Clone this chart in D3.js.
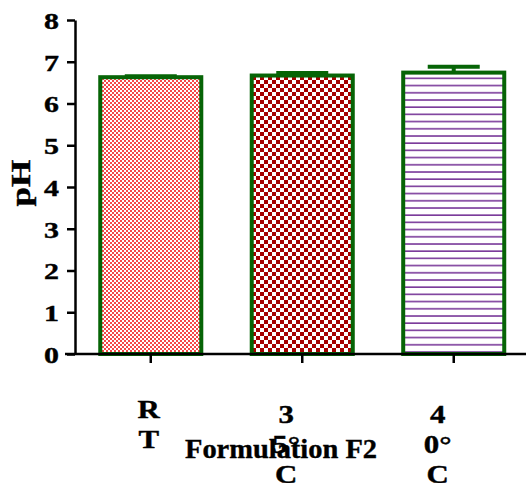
<!DOCTYPE html>
<html>
<head>
<meta charset="utf-8">
<script src="https://cdn.jsdelivr.net/npm/d3@7"></script>
<style>
  body { margin: 0; background: #fff; }
</style>
</head>
<body>
<div id="wrapper"></div>
<script>
// chart values
var categories = ["RT", "35°C", "40°C"];
var labelLines = [["R", "T"], ["3", "5°", "C"], ["4", "0°", "C"]];
var phValues = [6.63, 6.67, 6.74];
var phErrors = [0.02, 0.06, 0.14];
var yTicks = [0, 1, 2, 3, 4, 5, 6, 7, 8];

var width = 526, height = 483;
var green = "#066406";
var serif = "'Liberation Serif', 'Times New Roman', Times, serif";
var stretch = 1.3; // the figure's lettering is wide, as if scaled sideways

const svg = d3.select("#wrapper")
  .append("svg")
  .attr("width", width)
  .attr("height", height)
  .style("font-family", serif);

// heavy serif text like the scanned figure
function boldText(sel, size) {
  return sel
    .style("font-family", serif)
    .style("font-weight", "bold")
    .style("font-size", size + "px")
    .attr("fill", "#000")
    .attr("stroke", "#000")
    .attr("stroke-width", 0.4);
}

// fill patterns for the three bars
const defs = svg.append("defs");

const p1 = defs.append("pattern").attr("id", "fine").attr("patternUnits", "userSpaceOnUse")
  .attr("width", 4).attr("height", 4);
p1.append("rect").attr("width", 4).attr("height", 4).attr("fill", "#fff");
p1.append("rect").attr("width", 2).attr("height", 2).attr("fill", "#f54848");
p1.append("rect").attr("x", 2).attr("y", 2).attr("width", 2).attr("height", 2).attr("fill", "#f54848");

const p2 = defs.append("pattern").attr("id", "checker").attr("patternUnits", "userSpaceOnUse")
  .attr("width", 8).attr("height", 8);
p2.append("rect").attr("width", 8).attr("height", 8).attr("fill", "#fff");
p2.append("rect").attr("width", 4).attr("height", 4).attr("fill", "#a50000");
p2.append("rect").attr("x", 4).attr("y", 4).attr("width", 4).attr("height", 4).attr("fill", "#a50000");

const p3 = defs.append("pattern").attr("id", "lines").attr("patternUnits", "userSpaceOnUse")
  .attr("width", 8).attr("height", 7.2);
p3.append("rect").attr("width", 8).attr("height", 7.2).attr("fill", "#fff");
p3.append("rect").attr("y", 5.6).attr("width", 8).attr("height", 1.6).attr("fill", "#7a3a9a");

var fills = ["url(#fine)", "url(#checker)", "url(#lines)"];

// scales
const x = d3.scaleBand()
  .domain(categories)
  .range([75, 529.5])
  .paddingInner(0.333)
  .paddingOuter(0.1667);

const y = d3.scaleLinear()
  .domain([0, 8])
  .range([354, 20]);

// bars
const bars = svg.append("g");
bars.selectAll("rect")
  .data(categories)
  .enter()
  .append("rect")
  .attr("x", d => x(d))
  .attr("y", (d, i) => y(phValues[i]))
  .attr("width", x.bandwidth())
  .attr("height", (d, i) => y(0) - y(phValues[i]))
  .attr("fill", (d, i) => fills[i])
  .attr("stroke", green)
  .attr("stroke-width", 4);

// upper error bars
const errs = svg.append("g").attr("stroke", green).attr("stroke-width", 4);
categories.forEach(function (c, i) {
  var cx = x(c) + x.bandwidth() / 2;
  errs.append("line")
    .attr("x1", cx).attr("x2", cx)
    .attr("y1", y(phValues[i])).attr("y2", y(phValues[i] + phErrors[i]));
  errs.append("line")
    .attr("x1", cx - 26).attr("x2", cx + 26)
    .attr("y1", y(phValues[i] + phErrors[i])).attr("y2", y(phValues[i] + phErrors[i]));
});

// y axis
const yAxis = svg.append("g")
  .attr("transform", "translate(75,0)")
  .call(d3.axisLeft(y).tickValues(yTicks).tickSize(8).tickSizeOuter(0).tickPadding(5));
yAxis.attr("font-family", null).attr("font-size", null);
yAxis.select(".domain").attr("stroke-width", 2.5);
yAxis.selectAll(".tick line").attr("stroke-width", 2.5);
boldText(yAxis.selectAll(".tick text"), 23)
  .attr("x", 0)
  .attr("dy", "0.36em")
  .attr("transform", `translate(-16,0) scale(${stretch},1)`);

// x axis
const xAxis = svg.append("g")
  .attr("transform", "translate(0,354)")
  .call(d3.axisBottom(x).tickSize(9).tickSizeOuter(0).tickFormat(""));
xAxis.select(".domain").attr("d", "M65,0H526").attr("stroke-width", 2.5);
xAxis.selectAll(".tick line").attr("stroke-width", 2.5);

// wrapped category labels, one character group per line
var labelShift = [-2, -16, -16];
var labelTop = [418, 423, 423];
categories.forEach(function (c, i) {
  var cx = x(c) + x.bandwidth() / 2 + labelShift[i];
  labelLines[i].forEach(function (t, j) {
    boldText(svg.append("text"), 25)
      .attr("transform", `translate(${cx},${labelTop[i] + j * 30}) scale(${stretch * 0.95},1)`)
      .attr("text-anchor", "middle")
      .text(t);
  });
});

// axis titles
boldText(svg.append("text"), 28)
  .attr("x", 185)
  .attr("y", 458)
  .attr("textLength", 192)
  .attr("lengthAdjust", "spacingAndGlyphs")
  .text("Formulation  F2");

boldText(svg.append("text"), 27)
  .attr("transform", `translate(30,183) rotate(-90) scale(${stretch},1)`)
  .attr("text-anchor", "middle")
  .text("pH");
</script>
</body>
</html>
